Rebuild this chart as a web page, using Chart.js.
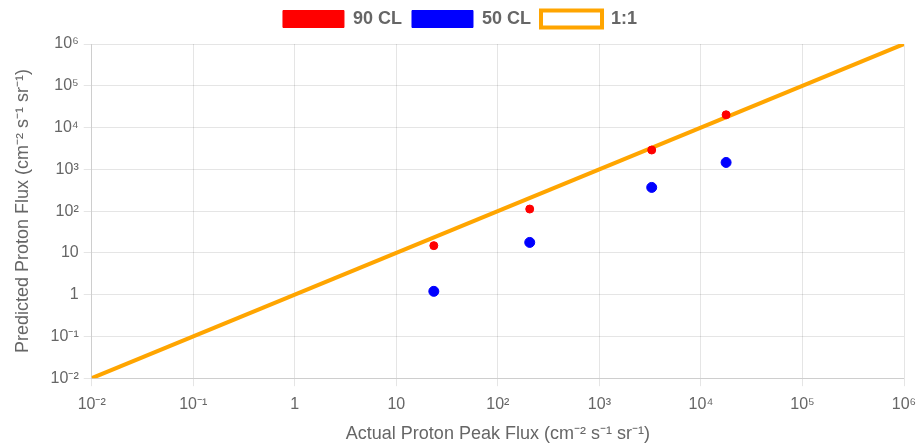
<!DOCTYPE html>
<html>
<head>
<meta charset="utf-8">
<script src="https://cdn.jsdelivr.net/npm/chart.js@4/dist/chart.umd.min.js"></script>
<style>
html,body{margin:0;padding:0;background:#fff;}
#wrap{width:919px;height:448px;}
</style>
</head>
<body>
<div id="wrap"><canvas id="c" width="919" height="448"></canvas></div>
<script>
const actualFlux = [23.4, 206, 3275, 17700];
const predicted90 = [14.9, 112, 2900, 20200];
const predicted50 = [1.2, 17.8, 369, 1460];
const oneToOneX = [0.01, 1000000];
const oneToOneY = [0.01, 1000000];
const seriesNames = ['90 CL', '50 CL', '1:1'];
const tickExponents = [-2, -1, 0, 1, 2, 3, 4, 5, 6];
const tickLabels = ['10⁻²', '10⁻¹', '1', '10', '10²', '10³', '10⁴', '10⁵', '10⁶'];
const xTitle = 'Actual Proton Peak Flux (cm⁻² s⁻¹ sr⁻¹)';
const yTitle = 'Predicted Proton Flux (cm⁻² s⁻¹ sr⁻¹)';

const tickValues = tickExponents.map(e => Math.pow(10, e));
function labelFor(v) {
  const e = Math.round(Math.log10(v));
  const i = tickExponents.indexOf(e);
  return i >= 0 ? tickLabels[i] : '';
}
function setTicks(scale) {
  scale.ticks = tickValues.map(v => ({value: v}));
}

const font = "Arial, 'Liberation Sans', sans-serif";
Chart.defaults.font.family = font;
Chart.defaults.color = '#666';

const legendSpace = {
  id: 'legendSpace',
  beforeInit(chart) {
    const origFit = chart.legend.fit;
    chart.legend.fit = function () {
      origFit.bind(chart.legend)();
      this.height += 6;
    };
  }
};

new Chart(document.getElementById('c'), {
  data: {
    datasets: [
      {
        type: 'scatter',
        label: seriesNames[0],
        data: actualFlux.map((x, i) => ({x: x, y: predicted90[i]})),
        backgroundColor: 'red',
        borderColor: 'red',
        pointRadius: 4,
        pointHoverRadius: 4
      },
      {
        type: 'scatter',
        label: seriesNames[1],
        data: actualFlux.map((x, i) => ({x: x, y: predicted50[i]})),
        backgroundColor: 'blue',
        borderColor: 'blue',
        pointRadius: 5,
        pointHoverRadius: 5
      },
      {
        type: 'line',
        label: seriesNames[2],
        data: oneToOneX.map((x, i) => ({x: x, y: oneToOneY[i]})),
        borderColor: 'orange',
        backgroundColor: 'white',
        borderWidth: 4,
        pointRadius: 0,
        fill: false
      }
    ]
  },
  options: {
    responsive: false,
    animation: false,
    layout: {padding: {right: 7, left: 8, bottom: 0, top: 0}},
    plugins: {
      legend: {
        position: 'top',
        labels: {
          boxWidth: 61,
          boxHeight: 17,
          font: {size: 18, weight: 'bold'},
          color: '#666',
          padding: 10
        }
      },
      tooltip: {enabled: false}
    },
    scales: {
      x: {
        type: 'logarithmic',
        min: 0.01,
        max: 1000000,
        afterBuildTicks: setTicks,
        afterFit: (scale) => { scale.paddingRight = 15; },
        ticks: {callback: (v) => labelFor(v), font: {size: 16}, color: '#666', autoSkip: false, maxRotation: 0, padding: 9},
        title: {display: true, text: xTitle, font: {size: 18}, color: '#666', padding: {top: 0, bottom: 3}},
        grid: {color: 'rgba(0,0,0,0.1)'}
      },
      y: {
        type: 'logarithmic',
        min: 0.01,
        max: 1000000,
        afterBuildTicks: setTicks,
        ticks: {callback: (v) => labelFor(v), font: {size: 16}, color: '#666', autoSkip: false, padding: 5},
        title: {display: true, text: yTitle, font: {size: 18}, color: '#666', padding: {top: 4, bottom: 12}},
        grid: {color: 'rgba(0,0,0,0.1)'}
      }
    }
  },
  plugins: [legendSpace]
});
</script>
</body>
</html>
